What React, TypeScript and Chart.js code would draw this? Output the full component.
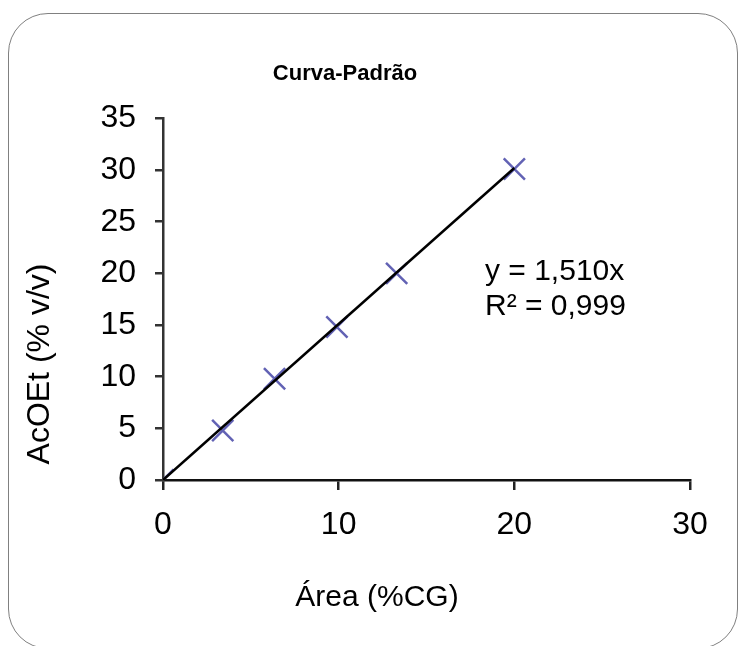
import React, { useEffect, useRef } from 'react';
import { Chart, registerables } from 'chart.js';

Chart.register(...registerables);

// ---- data ----
const areaValues = [0, 3.4, 6.35, 9.9, 13.3, 20.0];
const acoetValues = [0, 4.8, 9.8, 14.8, 20.0, 30.1];
const trendX = [0, 20];
const trendY = [0, 30.2];
const xTickValues = [0, 10, 20, 30];
const yTickValues = [0, 5, 10, 15, 20, 25, 30, 35];
const chartTitle = 'Curva-Padrão';
const xAxisTitle = 'Área (%CG)';
const yAxisTitle = 'AcOEt (% v/v)';
const equationLines = ['y = 1,510x', 'R² = 0,999'];

const FONT = "'Liberation Sans', Arial, sans-serif";

const textPlugin = {
  id: 'textPlugin',
  afterDraw(chart: any) {
    const ctx = chart.ctx as CanvasRenderingContext2D;
    ctx.save();
    ctx.fillStyle = '#000';
    ctx.font = `30px ${FONT}`;
    // x axis title
    ctx.textAlign = 'center';
    ctx.textBaseline = 'middle';
    ctx.fillText(xAxisTitle, 377, 598);
    // y axis title
    ctx.save();
    ctx.font = `32px ${FONT}`;
    ctx.translate(40, 364);
    ctx.rotate(-Math.PI / 2);
    ctx.fillText(yAxisTitle, 0, 0);
    ctx.restore();
    // equation
    ctx.textAlign = 'left';
    ctx.textBaseline = 'alphabetic';
    ctx.fillText(equationLines[0], 485, 280);
    ctx.fillText(equationLines[1], 485, 315);
    ctx.restore();
  },
};

export default function App() {
  const canvasRef = useRef<HTMLCanvasElement | null>(null);

  useEffect(() => {
    if (!canvasRef.current) return;
    const chart = new Chart(canvasRef.current, {
      type: 'scatter',
      data: {
        datasets: [
          {
            type: 'line',
            label: 'trend',
            data: trendX.map((x, i) => ({ x, y: trendY[i] })),
            borderColor: '#000',
            borderWidth: 2.5,
            pointRadius: 0,
            fill: false,
            order: 1,
          } as any,
          {
            type: 'scatter',
            label: 'AcOEt',
            data: areaValues.map((x, i) => ({ x, y: acoetValues[i] })),
            pointStyle: 'crossRot',
            pointRadius: 15,
            pointBorderWidth: 2.5,
            borderColor: '#6262b4',
            backgroundColor: '#6262b4',
            order: 2,
          } as any,
        ],
      },
      options: {
        animation: false,
        responsive: false,
        devicePixelRatio: 1,
        layout: { padding: { left: 0, top: 0, right: 52, bottom: 0 } },
        plugins: {
          legend: { display: false },
          tooltip: { enabled: false },
          title: {
            display: true,
            text: chartTitle,
            color: '#000',
            font: { family: FONT, size: 22, weight: 'bold', lineHeight: 1.2 },
            padding: { top: 61, bottom: 31 },
          },
        },
        scales: {
          x: {
            type: 'linear',
            min: 0,
            max: 30,
            afterBuildTicks: (scale: any) => {
              scale.ticks = xTickValues.map((v) => ({ value: v }));
            },
            afterFit: (scale: any) => {
              scale.height = 166;
            },
            ticks: {
              color: '#000',
              font: { family: FONT, size: 32 },
              padding: 16,
              maxRotation: 0,
            },
            grid: {
              display: true,
              drawOnChartArea: false,
              drawTicks: true,
              tickLength: 10,
              color: '#222',
              lineWidth: 2.5,
            },
            border: { display: true, color: '#111', width: 2.5 },
          },
          y: {
            type: 'linear',
            min: 0,
            max: 35,
            afterBuildTicks: (scale: any) => {
              scale.ticks = yTickValues.map((v) => ({ value: v }));
            },
            afterFit: (scale: any) => {
              scale.width = 163;
            },
            ticks: {
              color: '#000',
              font: { family: FONT, size: 32 },
              padding: 19,
            },
            grid: {
              display: true,
              drawOnChartArea: false,
              drawTicks: true,
              tickLength: 8,
              color: '#333',
              lineWidth: 2.5,
            },
            border: { display: true, color: '#333', width: 2.5 },
          },
        },
      } as any,
      plugins: [textPlugin],
    });
    return () => chart.destroy();
  }, []);

  return (
    <div
      style={{
        position: 'absolute',
        left: 0,
        top: 0,
        width: 742,
        height: 646,
        background: '#fff',
        overflow: 'hidden',
      }}
    >
      <div
        style={{
          position: 'absolute',
          left: 8,
          top: 13,
          width: 730,
          height: 636,
          border: '1.5px solid #808080',
          borderRadius: 40,
          boxSizing: 'border-box',
        }}
      />
      <canvas
        ref={canvasRef}
        width={742}
        height={646}
        style={{ position: 'absolute', left: 0, top: 0 }}
      />
    </div>
  );
}
